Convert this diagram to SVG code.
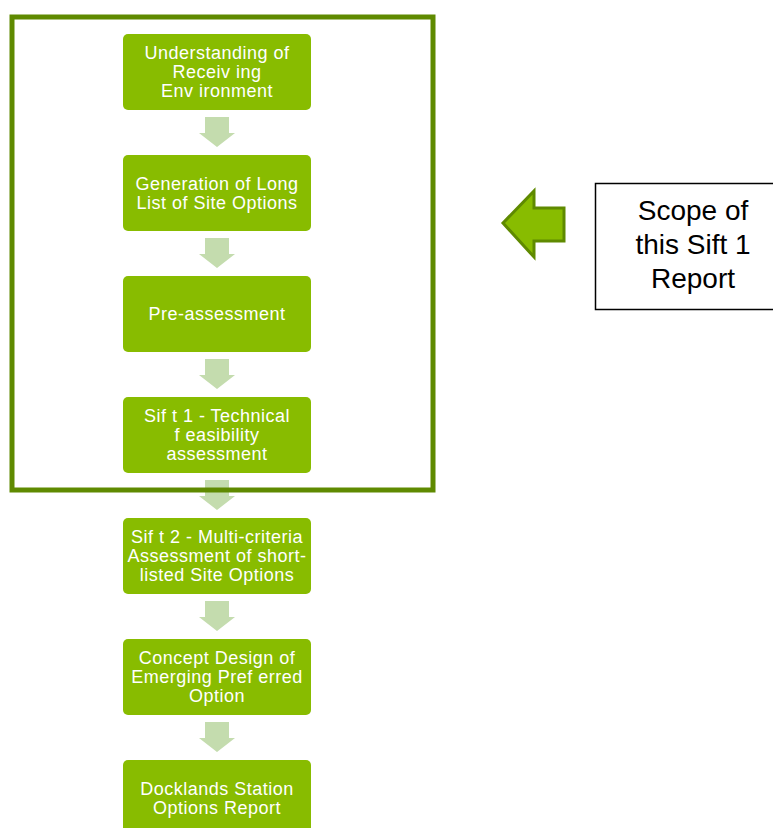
<svg xmlns="http://www.w3.org/2000/svg" width="773" height="828" viewBox="0 0 773 828">
<style>
.box{fill:#88bc00}
.t{font-family:"Liberation Sans",Arial,sans-serif;font-size:18px;fill:#ffffff;text-anchor:middle;letter-spacing:0.5px}
.dn{fill:#c4dcae}
.s{font-family:"Liberation Sans",Arial,sans-serif;font-size:28px;fill:#000000;text-anchor:middle}
</style>
<defs>
<path id="dn" class="dn" d="M-12,0 H12 V16 H18 L0,30 L-18,16 H-12 Z"/>
</defs>
<rect x="0" y="0" width="773" height="828" fill="#ffffff"/>
<g id="connectors">
<use href="#dn" x="217" y="117"/>
<use href="#dn" x="217" y="238"/>
<use href="#dn" x="217" y="359"/>
<use href="#dn" x="217" y="480"/>
<use href="#dn" x="217" y="601"/>
<use href="#dn" x="217" y="722"/>
</g>
<g id="frame">
<rect x="12" y="17" width="421" height="473" fill="none" stroke="#5f8a00" stroke-width="5"/>
</g>
<g id="n1"><rect class="box" x="123" y="34" width="188" height="76" rx="5"/>
<text class="t" x="217" y="59">Understanding of</text><text class="t" x="217" y="78">Receiv ing</text><text class="t" x="217" y="97">Env ironment</text></g>
<g id="n2"><rect class="box" x="123" y="155" width="188" height="76" rx="5"/>
<text class="t" x="217" y="190">Generation of Long</text><text class="t" x="217" y="209">List of Site Options</text></g>
<g id="n3"><rect class="box" x="123" y="276" width="188" height="76" rx="5"/>
<text class="t" x="217" y="320">Pre-assessment</text></g>
<g id="n4"><rect class="box" x="123" y="397" width="188" height="76" rx="5"/>
<text class="t" x="217" y="422">Sif t 1 - Technical</text><text class="t" x="217" y="441">f easibility</text><text class="t" x="217" y="460">assessment</text></g>
<g id="n5"><rect class="box" x="123" y="518" width="188" height="76" rx="5"/>
<text class="t" x="217" y="543">Sif t 2 - Multi-criteria</text><text class="t" x="217" y="562">Assessment of short-</text><text class="t" x="217" y="581">listed Site Options</text></g>
<g id="n6"><rect class="box" x="123" y="639" width="188" height="76" rx="5"/>
<text class="t" x="217" y="664">Concept Design of</text><text class="t" x="217" y="683">Emerging Pref erred</text><text class="t" x="217" y="702">Option</text></g>
<g id="n7"><rect class="box" x="123" y="760" width="188" height="76" rx="5"/>
<text class="t" x="217" y="795">Docklands Station</text><text class="t" x="217" y="814">Options Report</text></g>
<g id="leftArrow">
<path d="M503,223 L534,191 V208 H564 V241 H534 V257 Z" fill="#88bc00" stroke="#5f8a00" stroke-width="3" stroke-linejoin="miter"/>
</g>
<g id="scope">
<rect x="595.5" y="183.5" width="180" height="126" fill="#ffffff" stroke="#000000" stroke-width="1.5"/>
<text class="s" x="693" y="220">Scope of</text><text class="s" x="693" y="254">this Sift 1</text><text class="s" x="693" y="288">Report</text>
</g>
</svg>
